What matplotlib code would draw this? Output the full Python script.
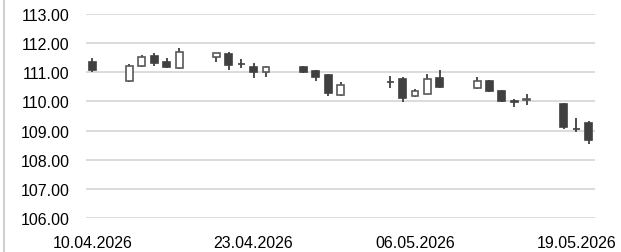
#!/usr/bin/env python3
"""Candlestick chart, April-May 2026."""

import datetime as dt

import matplotlib
matplotlib.use('Agg')
import matplotlib.pyplot as plt
import matplotlib.dates as mdates
from matplotlib.lines import Line2D

plt.rcParams.update({
    'font.family': ['Liberation Sans', 'DejaVu Sans'],
    'font.size': 11.5,
})

# Daily OHLC values
dates = ['2026-04-10', '2026-04-13', '2026-04-14', '2026-04-15', '2026-04-16', '2026-04-17',
         '2026-04-20', '2026-04-21', '2026-04-22', '2026-04-23', '2026-04-24',
         '2026-04-27', '2026-04-28', '2026-04-29', '2026-04-30',
         '2026-05-04', '2026-05-05', '2026-05-06', '2026-05-07', '2026-05-08',
         '2026-05-11', '2026-05-12', '2026-05-13', '2026-05-14', '2026-05-15',
         '2026-05-18', '2026-05-19', '2026-05-20']
opens = [111.36, 110.71, 111.23, 111.57, 111.36, 111.14,
         111.51, 111.63, 111.29, 111.17, 111.02,
         111.17, 111.03, 110.91, 110.22,
         110.67, 110.77, 110.20, 110.25, 110.80,
         110.45, 110.71, 110.37, 110.00, 110.05,
         109.91, 109.06, 109.25]
highs = [111.48, 111.28, 111.60, 111.66, 111.49, 111.83,
         111.67, 111.69, 111.46, 111.31, 111.23,
         111.23, 111.08, 110.94, 110.66,
         110.88, 110.83, 110.43, 110.94, 111.09,
         110.83, 110.73, 110.39, 110.08, 110.25,
         109.94, 109.43, 109.34]
lows = [111.00, 110.68, 111.17, 111.23, 111.14, 111.11,
        111.36, 111.09, 111.14, 110.80, 110.85,
        110.97, 110.71, 110.20, 110.20,
        110.45, 109.99, 110.14, 110.24, 110.45,
        110.44, 110.33, 109.97, 109.80, 109.88,
        109.05, 108.94, 108.54]
closes = [111.09, 111.23, 111.51, 111.32, 111.17, 111.71,
          111.66, 111.25, 111.27, 111.00, 111.19,
          111.00, 110.85, 110.28, 110.56,
          110.65, 110.11, 110.35, 110.77, 110.48,
          110.71, 110.35, 110.00, 109.98, 110.07,
          109.11, 109.04, 108.68]

y_ticks = [106, 107, 108, 109, 110, 111, 112, 113]
x_tick_dates = ['2026-04-10', '2026-04-23', '2026-05-06', '2026-05-19']

dark = '#404040'
edge = '#595959'
grid = '#d9d9d9'


def to_num(s):
    return mdates.date2num(dt.datetime.strptime(s, '%Y-%m-%d'))


def candles():
    fig = plt.figure(figsize=(6.21, 2.53), dpi=100)
    ax = fig.add_axes([86 / 621, 1 - 219 / 253, (595 - 86) / 621, (219 - 15) / 253])

    x = [to_num(d) for d in dates]
    up = [c >= o for o, c in zip(opens, closes)]

    # wicks
    ax.vlines(x, lows, highs, color=dark, linewidth=1.3, zorder=2)

    # bodies
    bottoms = [min(o, c) for o, c in zip(opens, closes)]
    heights = [abs(c - o) for o, c in zip(opens, closes)]
    faces = ['white' if u else dark for u in up]
    edges = [edge if u else dark for u in up]
    ax.bar(x, heights, width=0.56, bottom=bottoms, color=faces, edgecolor=edges,
           linewidth=1.2, zorder=3)

    ax.set_ylim(106, 113)
    ax.set_yticks(y_ticks)
    ax.set_yticklabels([f'{v:.2f}' for v in y_ticks])
    ax.set_xlim(x[0] - 0.5, x[-1] + 0.5)
    ax.set_xticks([to_num(d) for d in x_tick_dates])
    ax.set_xticklabels([dt.datetime.strptime(d, '%Y-%m-%d').strftime('%d.%m.%Y')
                        for d in x_tick_dates])

    ax.grid(axis='y', color=grid, linewidth=1.3)
    ax.set_axisbelow(True)
    for s in ax.spines.values():
        s.set_visible(False)
    ax.tick_params(axis='both', length=0, colors='black')
    ax.tick_params(axis='y', pad=12)
    ax.tick_params(axis='x', pad=12.5)

    # thin border on the left edge of the picture
    fig.add_artist(Line2D([4 / 621, 4 / 621], [0, 1], transform=fig.transFigure,
                          color='#d0d0d0', linewidth=1.5))

    fig.savefig('out.png', dpi=100)
    plt.close(fig)


if __name__ == '__main__':
    candles()
